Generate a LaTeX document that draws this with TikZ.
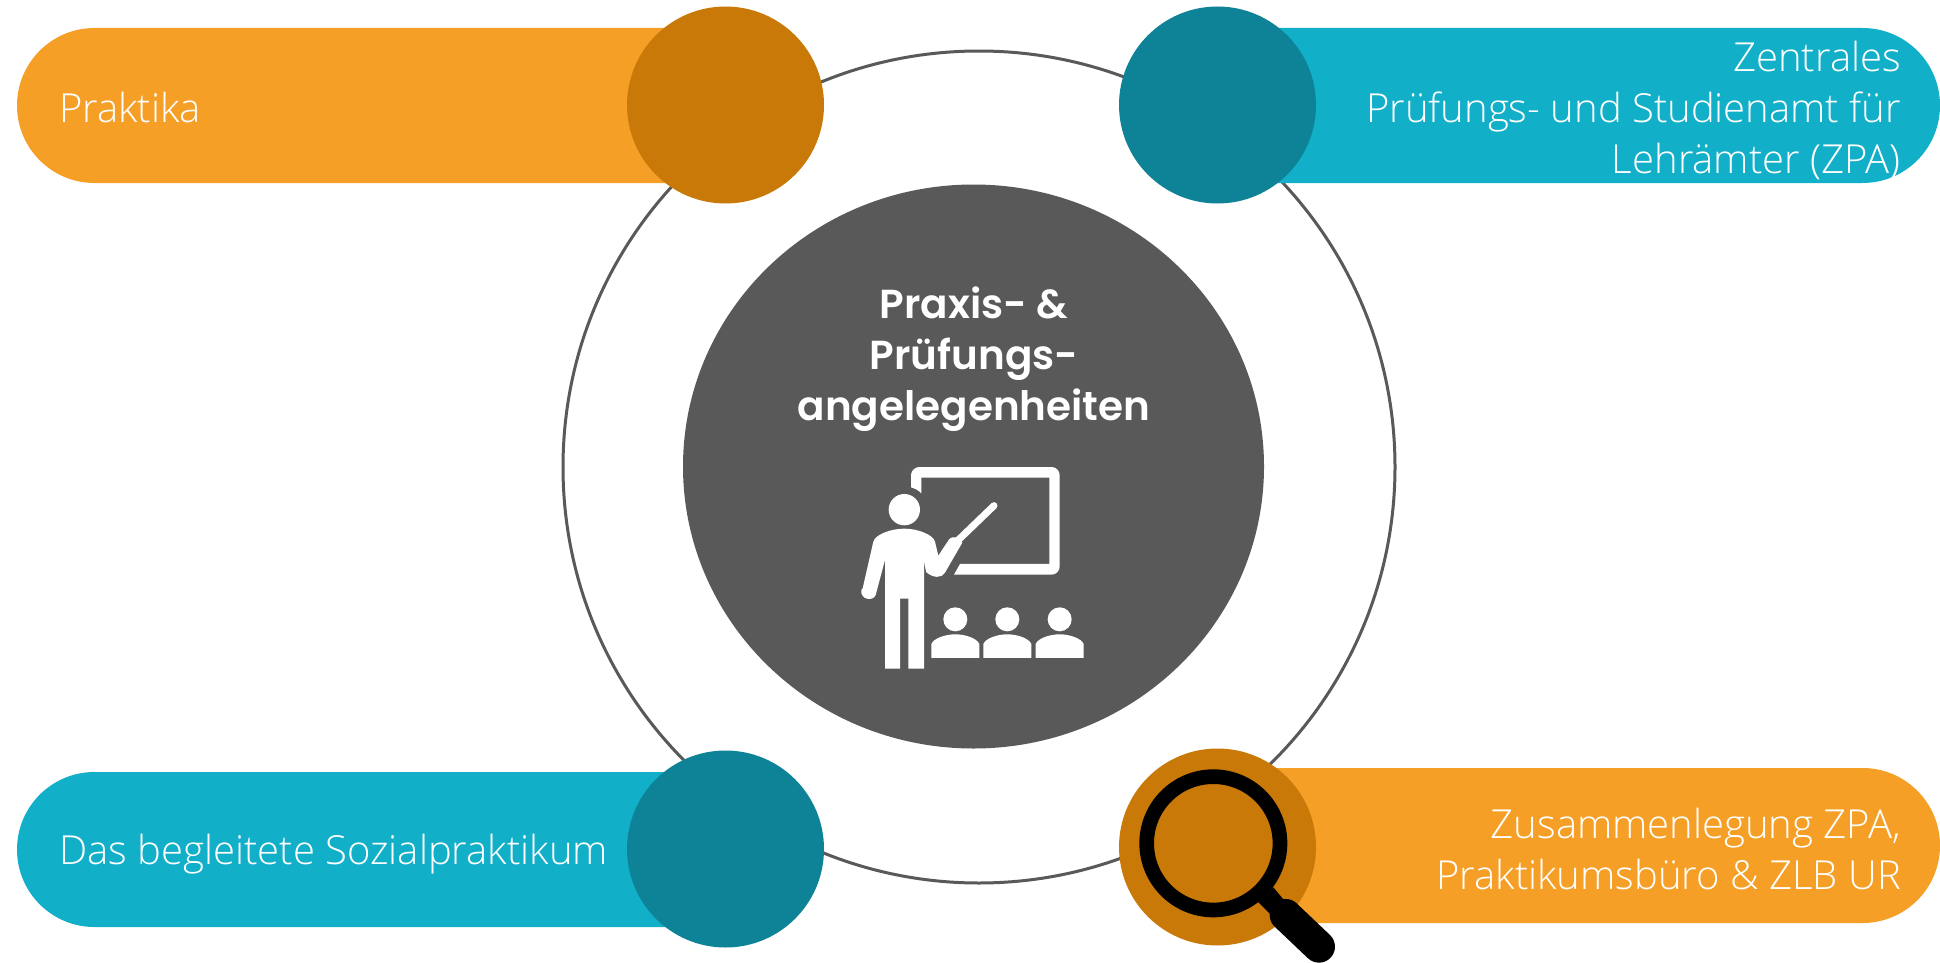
\documentclass[tikz,border=0pt]{standalone}
\usepackage{fontspec}
\setmainfont{Open Sans}[UprightFont=* Light]
\newfontfamily\headfont{Poppins}[UprightFont=* SemiBold]
\definecolor{orangebar}{HTML}{F59F27}
\definecolor{orangedark}{HTML}{C97908}
\definecolor{tealbar}{HTML}{12AFC9}
\definecolor{tealdark}{HTML}{0E8296}
\definecolor{greyhub}{HTML}{595959}
\tikzset{
 pill/.style={rounded corners=77.5pt},
 disc/.style={circle,minimum size=197pt,inner sep=0pt},
 lefttext/.style={text=white,anchor=west,font=\fontsize{40}{51}\selectfont,align=left,inner sep=0pt},
 righttext/.style={text=white,anchor=east,font=\fontsize{40}{51}\selectfont,align=right,inner sep=0pt},
 icon/.style={fill=white,draw=none},
}
\begin{document}
\begin{tikzpicture}[x=1pt,y=-1pt]
\useasboundingbox (0,0) rectangle (1940,963);
\draw[greyhub,line width=3pt] (979,467) circle[radius=416];
\fill[orangebar,pill] (17,28) rectangle (800,183);
\fill[tealbar,pill] (1150,28) rectangle (1940,183);
\fill[tealbar,pill] (17,772) rectangle (800,927);
\fill[orangebar,pill] (1150,768) rectangle (1940,923);
\node[disc,fill=orangedark] (d1) at (725.5,105) {};
\node[disc,fill=tealdark] (d2) at (1217.5,105) {};
\node[disc,fill=tealdark] (d3) at (725.5,849) {};
\node[disc,fill=orangedark] (d4) at (1217.5,847) {};
\fill[greyhub] (973.5,466.5) ellipse[x radius=290.5,y radius=282];
\node[lefttext] (t1) at (59,108) {Praktika};
\node[lefttext] (t3) at (59,854) {Das begleitete Sozialpraktikum};
\node[righttext] (t2) at (1901,110) {Zentrales\\Prüfungs- und Studienamt für\\Lehrämter (ZPA)};
\node[righttext] (t4) at (1901,849) {Zusammenlegung ZPA,\\Praktikumsbüro \& ZLB UR};
\node[text=white,align=center,font=\headfont\fontsize{40.5}{51}\selectfont,inner sep=0pt] (hub) at (974,359) {Praxis- \&\\Prüfungs-\\angelegenheiten};
% teaching icon
\begin{scope}[shift={(820,440)},x=0.3333pt,y=-0.3333pt]
\fill[icon] (273,142) -- (273,105) .. controls (273,92) and (286,81) .. (297,81) -- (695,81) .. controls (708,81) and (719,92) .. (719,105) -- (719,380) .. controls (719,393) and (708,404) .. (695,404) -- (402,404) -- (420,372) -- (688,372) -- (688,113) -- (304,113) -- (304,160) .. controls (295,150) and (285,146) .. (273,142) -- cycle;
\fill[icon] (253,209) circle[radius=47];
\fill[icon] (128,445) -- (160,305) .. controls (165,285) and (210,266) .. (253,266) .. controls (295,266) and (340,285) .. (345,305) -- (355,347) -- (388,297) .. controls (395,288) and (420,290) .. (427,308) -- (375,398) .. controls (365,415) and (340,415) .. (318,396) -- (312,360) -- (312,686) -- (265,686) -- (265,476) -- (240,476) -- (240,686) -- (195,686) -- (195,360) -- (167,465) .. controls (160,485) and (120,480) .. (124,450) -- cycle;
\draw[white,line width=7pt,line cap=round] (415,300) -- (522,197);
\foreach \cx in {406,562,719}{
 \fill[icon] (\cx,538) circle[radius=36];
 \fill[icon] (\cx-72,654) -- (\cx-72,612) .. controls (\cx-65,595) and (\cx-30,583) .. (\cx,583) .. controls (\cx+30,583) and (\cx+65,595) .. (\cx+72,612) -- (\cx+72,654) -- cycle;
}
\end{scope}
% magnifier
\begin{scope}[shift={(1100,730)},x=0.3333pt,y=-0.3333pt]
\draw[black,line width=14.67pt] (340,340) circle[radius=200];
\fill[black] (520,472) -- (475,517) -- (520,562) -- (560,520) -- cycle;
\draw[black,line width=32pt,line cap=round] (557,555) -- (657,650);
\end{scope}
\end{tikzpicture}
\end{document}
